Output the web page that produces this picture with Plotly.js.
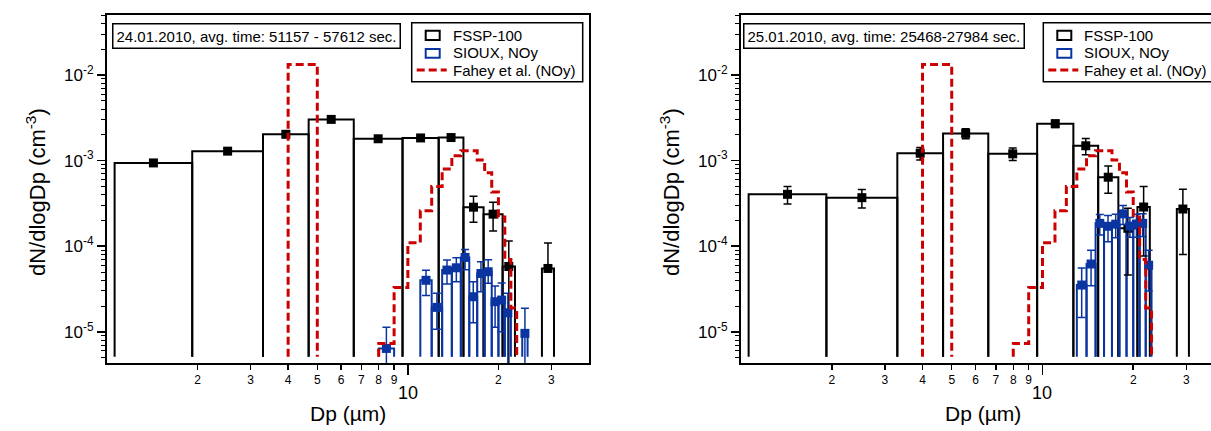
<!DOCTYPE html>
<html><head><meta charset="utf-8">
<script src="https://cdn.plot.ly/plotly-3.0.1.min.js"></script>
<style>html,body{margin:0;padding:0;overflow:hidden;background:#fff}#chart{width:1230px;height:431px}</style>
</head><body><div id="chart"></div>
<script>
// ---------------- data ----------------
const fsspLo = [1.06, 1.92, 3.30, 4.68, 6.61, 9.6, 12.66, 15.3, 17.85, 20.65, 27.9];
const fsspHi = [1.92, 3.30, 4.68, 6.61, 9.6, 12.66, 15.3, 17.85, 20.65, 22.7, 30.6];

// 24.01.2010
const fssp24 = [9.4e-4, 1.29e-3, 2.03e-3, 3.03e-3, 1.80e-3, 1.84e-3, 1.86e-3, 2.86e-4, 2.37e-4, 5.8e-5, 5.5e-5];
const fssp24ErrPlus  = [null, null, null, null, null, null, null, 9.7e-5, 9.0e-5, 5.7e-5, 5.4e-5];
const fssp24ErrMinus = [null, null, null, null, null, null, null, 9.5e-5, 8.6e-5, 5.8e-5, 0];

const sioux24Lo = [8, 11, 12, 13, 14, 15, 16, 17, 18, 19, 20, 21, 24];
const sioux24Hi = [9, 12, 13, 14, 15, 16, 17, 18, 19, 20, 21, 22, 25];
const sioux24 = [6.4e-6, 4.0e-5, 1.93e-5, 5.27e-5, 5.6e-5, 7.4e-5, 2.57e-5, 4.8e-5, 5.04e-5, 2.25e-5, 2.35e-5, 1.67e-5, 9.6e-6];
const sioux24ErrPlus  = [4.9e-6, 1.24e-5, 8.9e-6, 1.63e-5, 1.73e-5, 1.76e-5, 1.28e-5, 1.79e-5, 1.91e-5, 1.18e-5, 1.37e-5, 1.15e-5, 9.2e-6];
const sioux24ErrMinus = [6.4e-6, 1.34e-5, 8.6e-6, 1.65e-5, 1.76e-5, 2.1e-5, 1.29e-5, 1.86e-5, 1.35e-5, 1.12e-5, 1.35e-5, 1.67e-5, 9.6e-6];

// 25.01.2010
const fssp25 = [4.04e-4, 3.69e-4, 1.22e-3, 2.08e-3, 1.20e-3, 2.70e-3, 1.49e-3, 6.4e-4, 1.62e-4, 2.87e-4, 2.72e-4];
const fssp25Err = [9.3e-5, 9.0e-5, 2.0e-4, 2.8e-4, 2.0e-4, 2.7e-4, 3.2e-4, 2.25e-4, 1.16e-4, 2.1e-4, 1.92e-4];

const sioux25Lo = [13, 14, 15, 16, 17, 18, 19, 20, 21, 22];
const sioux25Hi = [14, 15, 16, 17, 18, 19, 20, 21, 22, 23];
const sioux25 = [3.52e-5, 6.2e-5, 1.85e-4, 1.71e-4, 1.81e-4, 2.39e-4, 1.72e-4, 1.82e-4, 1.85e-4, 6.0e-5];
const sioux25Err = [2.05e-5, 2.75e-5, 5.0e-5, 5.8e-5, 5.5e-5, 6.0e-5, 4.5e-5, 5.5e-5, 5.5e-5, 3.0e-5];

// Fahey et al. (NOy)
const faheyLo = [4, 8, 9, 10, 11, 12, 13, 14, 15, 16, 17, 18, 19, 20, 21, 22];
const faheyHi = [5, 9, 10, 11, 12, 13, 14, 15, 16, 17, 18, 19, 20, 21, 22, 23];
const fahey = [1.33e-2, 7.3e-6, 3.3e-5, 1.1e-4, 2.6e-4, 5.0e-4, 8.0e-4, 1.14e-3, 1.30e-3, 1.30e-3, 1.02e-3, 7.2e-4, 4.3e-4, 2.2e-4, 7.0e-5, 1.9e-5];

const barBase = 5.1e-6;

const xTickVals = [2, 3, 4, 5, 6, 7, 8, 9, 20, 30];
const xTickText = ['2', '3', '4', '5', '6', '7', '8', '9', '2', '3'];
const yTickVals = [1e-5, 1e-4, 1e-3, 1e-2];
const yTickText = ['10<sup>-5</sup>', '10<sup>-4</sup>', '10<sup>-3</sup>', '10<sup>-2</sup>'];

const title24 = '24.01.2010, avg. time: 51157 - 57612 sec.';
const title25 = '25.01.2010, avg. time: 25468-27984 sec.';
const legendNames = ['FSSP-100', 'SIOUX, NOy', 'Fahey et al. (NOy)'];

// ---------------- helpers ----------------
const W = 1230, H = 431, T = 15, B = 68, PH = H - T - B;
const px = x => x / W;
const py = y => (H - B - y) / PH;
const FONT = 'Arial, "Liberation Sans", sans-serif';
const BLACK = '#000000', BLUE = '#0a35a0', RED = '#cc0000';

function barPath(lo, hi, v, base) {
  const xs = [], ys = [];
  for (let i = 0; i < v.length; i++) {
    xs.push(lo[i], lo[i], hi[i], hi[i], null);
    ys.push(base, v[i], v[i], base, null);
  }
  return { xs, ys };
}
function stepPath(lo, hi, v, base) {
  const xs = [], ys = [];
  for (let i = 0; i < v.length; i++) {
    if (i === 0 || lo[i] !== hi[i - 1]) {
      if (i > 0) { xs.push(hi[i - 1], null); ys.push(base, null); }
      xs.push(lo[i]); ys.push(base);
    }
    xs.push(lo[i], hi[i]); ys.push(v[i], v[i]);
  }
  xs.push(hi[v.length - 1]); ys.push(base);
  return { xs, ys };
}
const centers = (lo, hi) => lo.map((l, i) => Math.sqrt(l * hi[i]));

function panelTraces(xa, ya, fv, fErrP, fErrM, sLo, sHi, sv, sErrP, sErrM) {
  const fb = barPath(fsspLo, fsspHi, fv, barBase);
  const sb = barPath(sLo, sHi, sv, barBase);
  const fp = stepPath(faheyLo, faheyHi, fahey, barBase);
  return [
    { type: 'scatter', mode: 'lines', x: fb.xs, y: fb.ys, xaxis: xa, yaxis: ya,
      line: { color: BLACK, width: 2 }, showlegend: false, hoverinfo: 'skip' },
    { type: 'scatter', mode: 'lines', x: sb.xs, y: sb.ys, xaxis: xa, yaxis: ya,
      line: { color: BLUE, width: 2 }, showlegend: false, hoverinfo: 'skip' },
    { type: 'scatter', mode: 'markers', x: centers(fsspLo, fsspHi), y: fv, xaxis: xa, yaxis: ya,
      marker: { symbol: 'square', size: 9, color: BLACK },
      error_y: { type: 'data', symmetric: false, array: fErrP, arrayminus: fErrM, color: BLACK, thickness: 1.5, width: 4 },
      showlegend: false },
    { type: 'scatter', mode: 'markers', x: centers(sLo, sHi), y: sv, xaxis: xa, yaxis: ya,
      marker: { symbol: 'square', size: 9, color: BLUE },
      error_y: { type: 'data', symmetric: false, array: sErrP, arrayminus: sErrM, color: BLUE, thickness: 1.5, width: 4 },
      showlegend: false },
    { type: 'scatter', mode: 'lines', x: fp.xs, y: fp.ys, xaxis: xa, yaxis: ya,
      line: { color: RED, width: 3, dash: '8px,4px' }, showlegend: false, hoverinfo: 'skip' }
  ];
}

const data = [].concat(
  panelTraces('x', 'y', fssp24, fssp24ErrPlus, fssp24ErrMinus, sioux24Lo, sioux24Hi, sioux24, sioux24ErrPlus, sioux24ErrMinus),
  panelTraces('x2', 'y2', fssp25, fssp25Err, fssp25Err, sioux25Lo, sioux25Hi, sioux25, sioux25Err, sioux25Err)
);

const yMinor = [];
for (let e = -6; e <= -2; e++) for (let k = 2; k <= 9; k++) yMinor.push(k * Math.pow(10, e));

function xAxis(domain) {
  return {
    type: 'log', range: [0, Math.log10(40)], domain: domain,
    showline: true, linecolor: BLACK, linewidth: 2, mirror: true,
    ticks: 'outside', ticklen: 5, tickwidth: 1.5, tickcolor: BLACK,
    tickmode: 'array', tickvals: xTickVals, ticktext: xTickText,
    tickfont: { family: FONT, size: 12, color: BLACK },
    showgrid: false, zeroline: false,
    minor: { tickmode: 'array', tickvals: [10], ticks: 'outside', ticklen: 10, tickwidth: 1.5, tickcolor: BLACK, showgrid: false }
  };
}
function yAxis(anchor) {
  return {
    type: 'log', range: [-5.364, -1.299], domain: [0, 1], anchor: anchor,
    showline: true, linecolor: BLACK, linewidth: 2, mirror: true,
    ticks: 'outside', ticklen: 8, tickwidth: 1.5, tickcolor: BLACK,
    tickmode: 'array', tickvals: yTickVals, ticktext: yTickText,
    tickfont: { family: FONT, size: 17, color: BLACK },
    showgrid: false, zeroline: false,
    minor: { tickmode: 'array', tickvals: yMinor, ticks: 'outside', ticklen: 4, tickwidth: 1, tickcolor: BLACK, showgrid: false }
  };
}

const annotations = [];
const shapes = [];
function panelDecor(xaName, left, right, boxX, legX, title) {
  const cx = (left + right) / 2;
  annotations.push({ xref: 'paper', yref: 'paper', x: px(cx), y: py(413), text: 'Dp (µm)', showarrow: false,
    font: { family: FONT, size: 21, color: BLACK }, xanchor: 'center', yanchor: 'middle' });
  annotations.push({ xref: xaName, yref: 'paper', x: 1, y: py(393), text: '10', showarrow: false,
    font: { family: FONT, size: 18, color: BLACK }, xanchor: 'center', yanchor: 'middle' });
  annotations.push({ xref: 'paper', yref: 'paper', x: px(left - 71), y: py(192), text: 'dN/dlogDp (cm<sup>-3</sup>)', showarrow: false,
    textangle: -90, font: { family: FONT, size: 22, color: BLACK }, xanchor: 'center', yanchor: 'middle' });
  annotations.push({ xref: 'paper', yref: 'paper', x: px(boxX), y: py(23.3), text: title, showarrow: false,
    font: { family: FONT, size: 15, color: BLACK }, xanchor: 'left', yanchor: 'top',
    bordercolor: BLACK, borderwidth: 1.5, borderpad: 3, bgcolor: '#ffffff' });
  // legend
  shapes.push({ type: 'rect', xref: 'paper', yref: 'paper', x0: px(legX), x1: px(legX + 171), y0: py(22.7), y1: py(81.7),
    line: { color: BLACK, width: 1.5 }, fillcolor: '#ffffff' });
  shapes.push({ type: 'rect', xref: 'paper', yref: 'paper', x0: px(legX + 14), x1: px(legX + 28), y0: py(30.7), y1: py(40),
    line: { color: BLACK, width: 2 } });
  shapes.push({ type: 'rect', xref: 'paper', yref: 'paper', x0: px(legX + 14), x1: px(legX + 28), y0: py(49), y1: py(57.7),
    line: { color: BLUE, width: 2 } });
  shapes.push({ type: 'line', xref: 'paper', yref: 'paper', x0: px(legX + 5), x1: px(legX + 35), y0: py(70), y1: py(70),
    line: { color: RED, width: 3, dash: '8px,4px' } });
  const ty = [35, 52.7, 70];
  for (let i = 0; i < 3; i++) {
    annotations.push({ xref: 'paper', yref: 'paper', x: px(legX + 39), y: py(ty[i]), text: legendNames[i], showarrow: false,
      font: { family: FONT, size: 15, color: BLACK }, xanchor: 'left', yanchor: 'middle' });
  }
}
panelDecor('x', 107, 589, 111.7, 411.7, title24);
panelDecor('x2', 741, 1224, 743.3, 1043.3, title25);

const layout = {
  width: W, height: H,
  margin: { l: 0, r: 0, t: T, b: B, pad: 0 },
  paper_bgcolor: '#ffffff', plot_bgcolor: '#ffffff',
  showlegend: false,
  font: { family: FONT, color: BLACK },
  xaxis: xAxis([px(107), px(589)]),
  yaxis: yAxis('x'),
  xaxis2: xAxis([px(741), px(1224)]),
  yaxis2: yAxis('x2'),
  annotations: annotations,
  shapes: shapes
};
layout.xaxis.anchor = 'y';
layout.xaxis2.anchor = 'y2';

Plotly.newPlot('chart', data, layout, { displayModeBar: false, staticPlot: true });
</script>
</body></html>
